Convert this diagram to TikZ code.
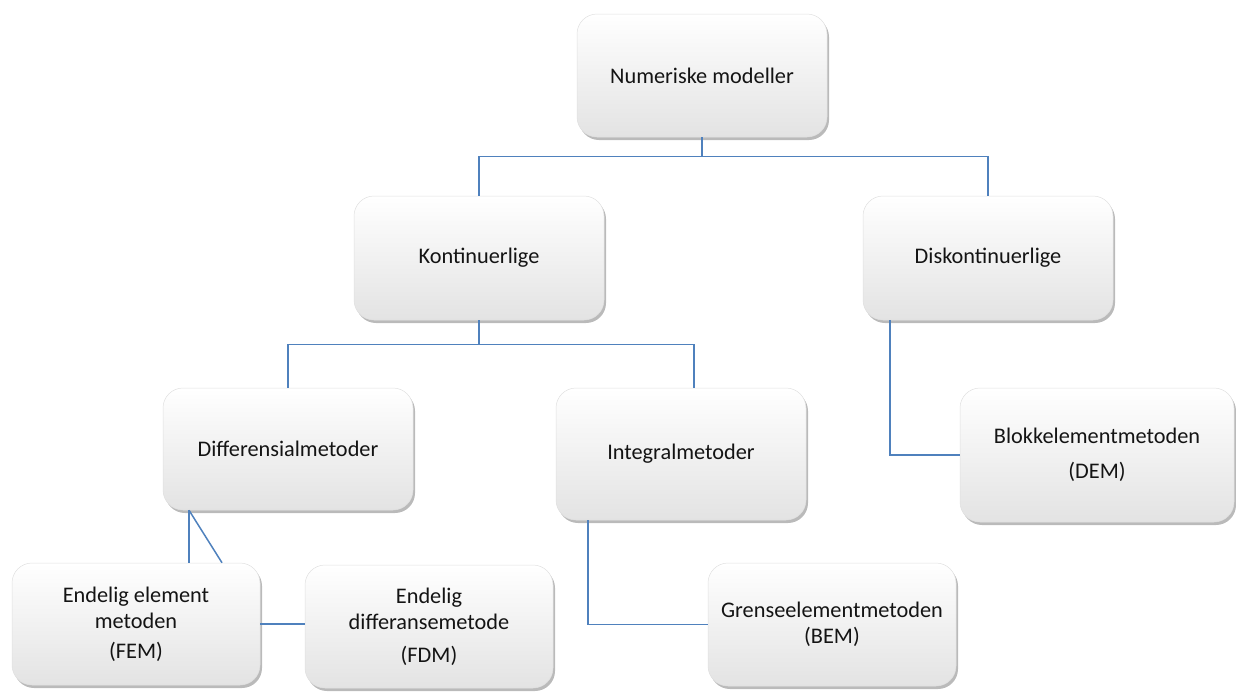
\documentclass[tikz,border=0pt]{standalone}
\usepackage{fontspec}
\setmainfont{Carlito}
\usetikzlibrary{shadows}
\definecolor{linkblue}{RGB}{79,129,189}
\definecolor{inktext}{RGB}{20,20,20}
\tikzset{
  box/.style={rounded corners=20pt, draw=black!12, line width=0.5pt,
    top color=white, middle color=white, bottom color=black!11,
    drop shadow={shadow xshift=2pt, shadow yshift=-3pt, opacity=0.45, fill=black!60},
    align=center, inner sep=2pt, text=inktext,
    font=\fontsize{22.3}{26}\selectfont},
  link/.style={draw=linkblue, line width=1.5pt}
}
\begin{document}
\begin{tikzpicture}[x=1pt, y=-1pt]
\useasboundingbox (0,0) rectangle (1236,691);

% boxes
\node[box, minimum width=250pt, minimum height=123pt] (num) at (702,75.5) {Numeriske modeller};
\node[box, minimum width=250pt, minimum height=124pt] (kont) at (479,258) {Kontinuerlige};
\node[box, minimum width=250pt, minimum height=124pt] (disk) at (988,258) {Diskontinuerlige};
\node[box, minimum width=250pt, minimum height=122pt] (diff) at (288,449) {Differensialmetoder};
\node[box, minimum width=250pt, minimum height=132pt] (integ) at (681,454) {Integralmetoder};
\node[box, minimum width=274pt, minimum height=134pt] (blokk) at (1097,455) {Blokkelementmetoden\\[9pt](DEM)};
\node[box, minimum width=248pt, minimum height=122pt] (fem) at (136,624) {Endelig element\\metoden\\[4pt](FEM)};
\node[box, minimum width=248pt, minimum height=123pt] (fdm) at (429,626.5) {Endelig\\differansemetode\\[7pt](FDM)};
\node[box, minimum width=248pt, minimum height=123pt] (bem) at (832,624.5) {Grenseelementmetoden\\(BEM)};

% connectors
\draw[link] (num.south) -- ++(0,19) -| (kont.north);
\draw[link] (num.south) -- ++(0,19) -| (disk.north);
\draw[link] (kont.south) -- ++(0,24) -| (diff.north);
\draw[link] (kont.south) -- ++(0,24) -| ([xshift=13pt]integ.north);
\draw[link] ([xshift=-98pt]disk.south) |- (blokk.west);
\coordinate (dsplit) at ([xshift=-99pt]diff.south);
\draw[link] (dsplit) -- (dsplit |- fem.north);
\draw[link] (dsplit) -- ([xshift=86pt]fem.north);
\draw[link] (fem.east) -- (fem.east -| fdm.west);
\draw[link] ([xshift=-93pt]integ.south) |- (bem.west);
\end{tikzpicture}
\end{document}
